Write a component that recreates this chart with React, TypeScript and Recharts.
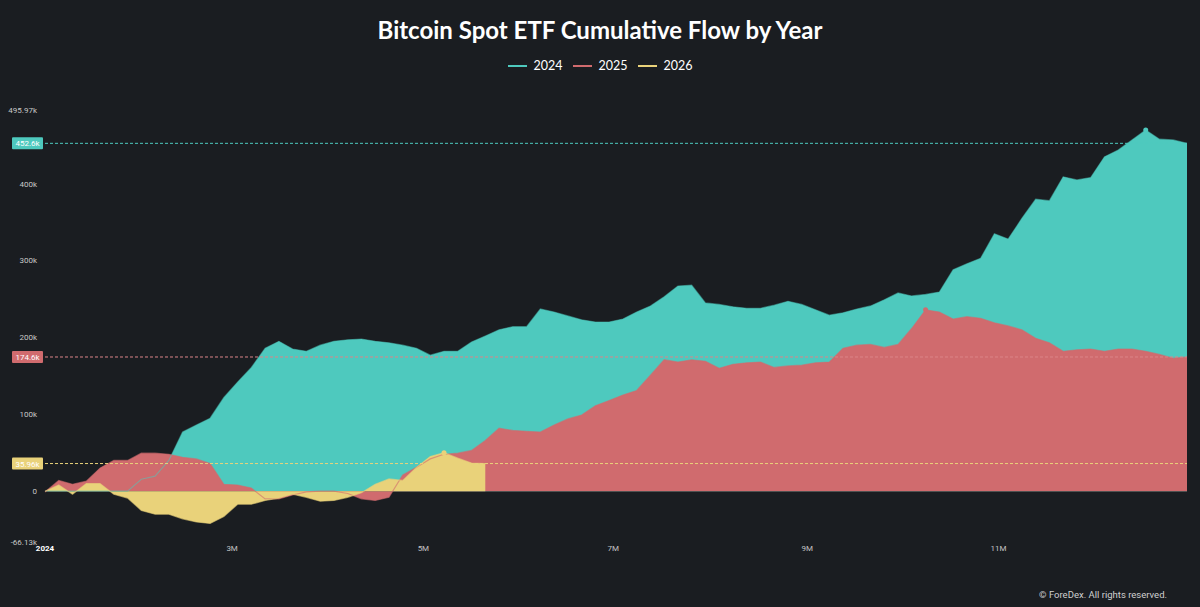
import { ComposedChart, Area, Line, XAxis, YAxis, ReferenceLine, ReferenceDot } from 'recharts'

// cumulative flow, thousands of BTC, sampled every 3 trading days
const SERIES_2024 = [
  0, 0, 0, 0, 0, 0, 0, 15.6, 19.5, 40, 77, 86, 95, 122, 142, 161, 186, 195, 185, 182,
  190, 195, 197, 198, 195, 193, 190, 186, 177, 182, 182, 194, 202, 210, 214, 214, 237, 233, 228, 223,
  220, 220, 224, 233, 241, 253, 267, 268, 245, 243, 240, 238, 238, 242, 247, 243, 236, 229, 232, 237,
  241, 249, 258, 254, 256, 259, 288, 296, 303, 335, 328, 355, 380, 378, 409, 405, 408, 435, 444, 457,
  470, 458, 457, 452.6,
]
const SERIES_2025 = [
  -1, 14, 9, 13, 30, 40, 40, 49.5, 49.5, 48, 44, 42, 36, 9, 8, 4, -10, -10, -5, -1,
  0, 0, -3, -10, -12, -8, 21, 31, 42, 48, 49.5, 53, 66, 82, 79, 78, 77, 86, 94, 99,
  111, 118, 125, 131, 151, 171, 168, 171, 169, 160, 165, 167, 168, 161, 163, 164, 167, 168, 186, 190,
  191, 187, 191, 212, 236, 233, 224, 227, 225, 219, 215, 210, 199, 193, 182, 184, 185, 182, 185, 185,
  182, 178, 173, 174.6,
]
const SERIES_2026 = [
  0, 8, -4, 10, 10, -4, -9, -25, -30, -30, -36, -40, -42, -33, -17, -17, -12, -9, -4, -8,
  -13, -12, -8, -2, 9, 16, 14, 31, 45, 50, 43, 36.5, 35.96,
]

const X_TICKS = [0, 13.6, 27.5, 41.3, 55.4, 69.3]
const X_LABELS = ['2024', '3M', '5M', '7M', '9M', '11M']
const Y_TICKS = [-66.13, 0, 100, 200, 300, 400, 495.97]

const C2024 = '#4ec9be'
const C2025 = '#d06b6e'
const C2026 = '#e9d27a'

const rows = SERIES_2024.map((v, i) => ({
  i,
  y2024: v,
  y2025: SERIES_2025[i],
  y2026: i < SERIES_2026.length ? SERIES_2026[i] : null,
}))

const peak = (arr: number[]) => {
  let best = 0
  arr.forEach((v, i) => { if (v > arr[best]) best = i })
  return { i: best, v: arr[best] }
}

const last = (arr: number[]) => arr[arr.length - 1]

function BoxLabel({ viewBox, text, color }: any) {
  if (!viewBox) return null
  const y = viewBox.y
  return (
    <g>
      <rect x={12} y={y - 6} width={31} height={12} rx={1} fill={color} />
      <text x={27.5} y={y} dy={3} textAnchor="middle" fontSize={8} fill="#fff" fontFamily="Roboto, sans-serif">
        {text}
      </text>
    </g>
  )
}

function XTick({ x, y, payload, index }: any) {
  const first = index === 0
  return (
    <text
      x={x}
      y={y}
      dy="0.71em"
      textAnchor="middle"
      fontSize={8}
      fontWeight={first ? 700 : 400}
      fill={first ? '#ffffff' : '#c4c4c4'}
      fontFamily="Roboto, sans-serif"
    >
      {X_LABELS[X_TICKS.indexOf(payload.value)]}
    </text>
  )
}

const legendItems = [
  { name: '2024', color: C2024 },
  { name: '2025', color: C2025 },
  { name: '2026', color: C2026 },
]

export default function App() {
  const p24 = peak(SERIES_2024)
  const p25 = peak(SERIES_2025)
  const p26 = peak(SERIES_2026)

  return (
    <div style={{ position: 'absolute', left: 0, top: 0, width: 1200, height: 607, background: '#1a1d21', overflow: 'hidden', fontFamily: 'Lato, sans-serif' }}>
      <div style={{ position: 'absolute', top: 13, left: 0, width: 1200, textAlign: 'center', color: '#fff', fontSize: 24, fontWeight: 700, lineHeight: '34px' }}>
        Bitcoin Spot ETF Cumulative Flow by Year
      </div>
      <div style={{ position: 'absolute', top: 57, left: 0, width: 1200, display: 'flex', justifyContent: 'center', gap: 10, color: '#fff', fontSize: 12.5 }}>
        {legendItems.map(item => (
          <div key={item.name} style={{ display: 'flex', alignItems: 'center', gap: 7 }}>
            <span style={{ display: 'inline-block', width: 19, height: 2, background: item.color }} />
            <span style={{ lineHeight: '18px' }}>{item.name}</span>
          </div>
        ))}
      </div>

      <ComposedChart width={1200} height={607} data={rows} margin={{ top: 110, right: 13, bottom: 45, left: 0 }}>
        <XAxis
          dataKey="i"
          type="number"
          domain={[0, SERIES_2024.length - 1]}
          ticks={X_TICKS}
          interval={0}
          axisLine={false}
          tickLine={false}
          tickSize={0}
          tickMargin={3}
          height={20}
          tick={<XTick />}
        />
        <YAxis
          type="number"
          domain={[-66.13, 495.97]}
          ticks={Y_TICKS}
          interval={0}
          allowDataOverflow
          axisLine={false}
          tickLine={false}
          width={45}
          tick={{ fontSize: 8, fill: '#c8c8c8', fontFamily: 'Roboto, sans-serif' }}
          tickFormatter={(v: number) => (v === 0 ? '0' : `${v}k`)}
        />

        <Area type="linear" dataKey="y2024" stroke="none" fill={C2024} fillOpacity={1} dot={false} activeDot={false} isAnimationActive={false} />
        <Area type="linear" dataKey="y2025" stroke="none" fill={C2025} fillOpacity={1} dot={false} activeDot={false} isAnimationActive={false} />
        <Area type="linear" dataKey="y2026" stroke="none" fill={C2026} fillOpacity={1} dot={false} activeDot={false} isAnimationActive={false} />

        <Line type="linear" dataKey="y2024" stroke={C2024} strokeOpacity={0.5} strokeWidth={1.2} dot={false} activeDot={false} isAnimationActive={false} />
        <Line type="linear" dataKey="y2025" stroke={C2025} strokeOpacity={0.6} strokeWidth={1.2} dot={false} activeDot={false} isAnimationActive={false} />
        <Line type="linear" dataKey="y2026" stroke={C2026} strokeOpacity={0.6} strokeWidth={1.2} dot={false} activeDot={false} isAnimationActive={false} />

        <ReferenceLine y={last(SERIES_2024)} stroke={C2024} strokeWidth={1} strokeDasharray="3 2" label={<BoxLabel text={`${last(SERIES_2024)}k`} color={C2024} />} />
        <ReferenceLine y={last(SERIES_2025)} stroke="#dc8588" strokeWidth={1} strokeDasharray="3 2" label={<BoxLabel text={`${last(SERIES_2025)}k`} color={C2025} />} />
        <ReferenceLine y={last(SERIES_2026)} stroke={C2026} strokeWidth={1} strokeDasharray="3 2" label={<BoxLabel text={`${last(SERIES_2026)}k`} color={C2026} />} />

        <ReferenceDot x={p24.i} y={p24.v} r={2.5} fill={C2024} stroke="none" />
        <ReferenceDot x={p25.i} y={p25.v} r={2.5} fill={C2025} stroke="none" />
        <ReferenceDot x={p26.i} y={p26.v} r={2.5} fill={C2026} stroke="none" />
      </ComposedChart>

      <div style={{ position: 'absolute', right: 33, top: 589, color: '#d0d0d0', fontSize: 9.5, fontFamily: 'Roboto, sans-serif' }}>
        © ForeDex. All rights reserved.
      </div>
    </div>
  )
}
